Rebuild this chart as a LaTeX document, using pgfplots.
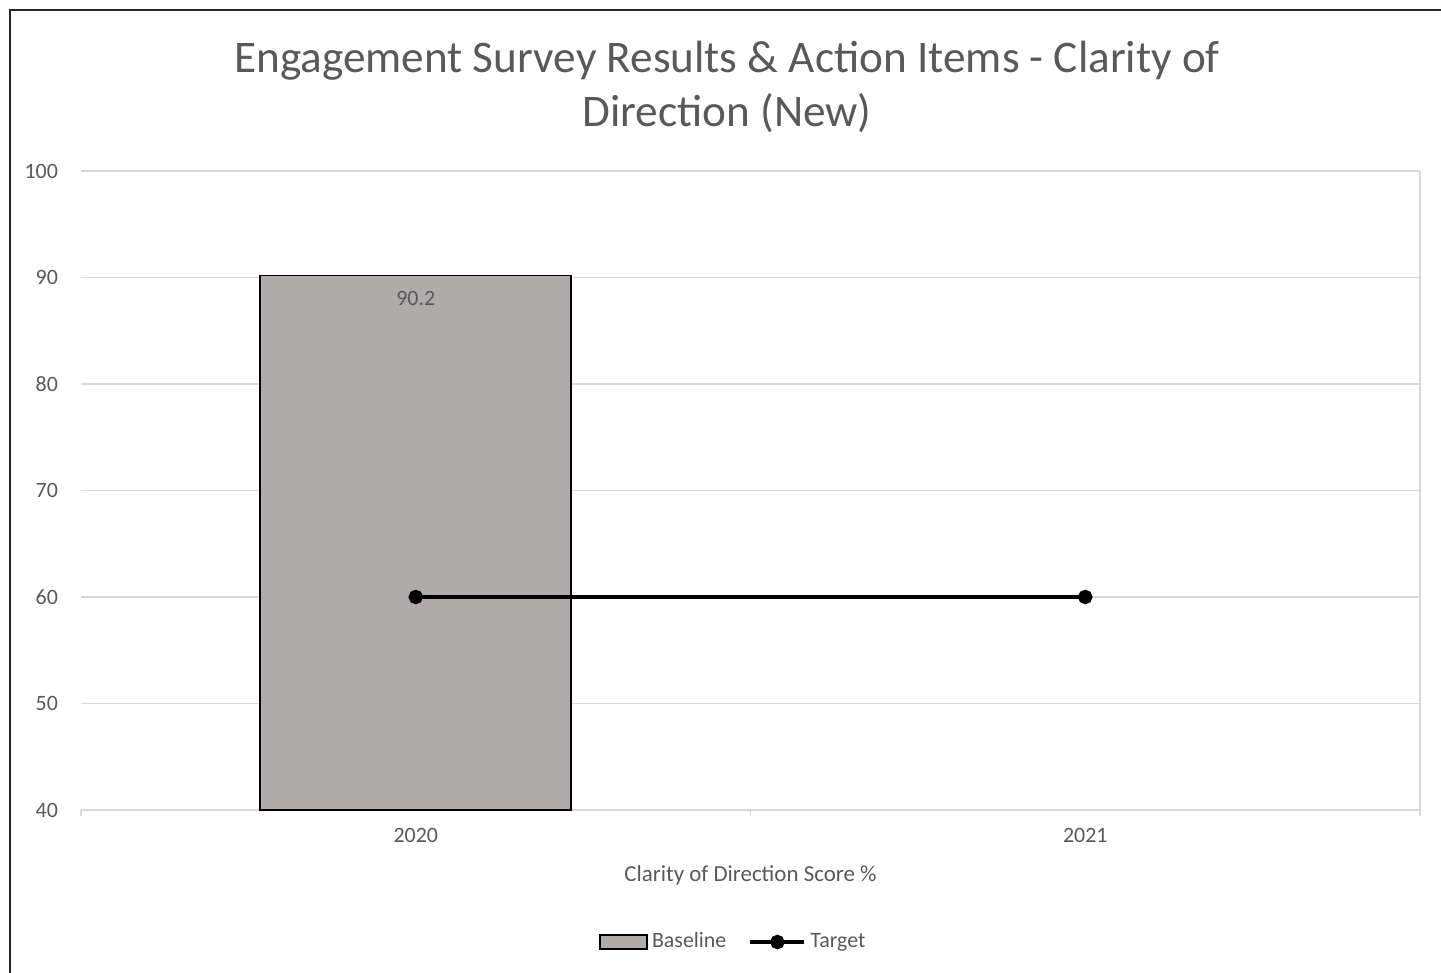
\documentclass[border=0pt]{standalone}
\usepackage{pgfplots}
\pgfplotsset{compat=1.18}
\usepackage{fontspec}
\setmainfont{Carlito}
\definecolor{txt}{HTML}{595959}
\definecolor{gridc}{HTML}{D9D9D9}
\definecolor{barc}{HTML}{AFABAB}
\begin{document}
\begin{tikzpicture}
\useasboundingbox (0,0) rectangle (720.5bp,486.5bp);
\draw[line width=1bp, black!85] (5bp,0) -- (5bp,481.5bp) -- (721bp,481.5bp);
\node[text=txt, font=\fontsize{22.7}{27}\selectfont, align=center] at (363.5bp,443bp)
  {Engagement Survey Results \& Action Items - Clarity of\\Direction (New)};
\begin{axis}[
  at={(40.5bp,81.5bp)}, anchor=south west,
  scale only axis, width=669.5bp, height=319.5bp,
  xmin=-0.5, xmax=1.5, ymin=40, ymax=100,
  ytick={40,50,...,100},
  xtick={-0.5,0.5,1.5}, xticklabels={},
  major x tick style={draw=gridc, line width=0.8bp},
  major tick length=3bp, tick align=outside,
  extra x ticks={0,1}, extra x tick labels={2020,2021},
  extra x tick style={major tick length=0pt, grid=none},
  axis x line*=bottom, axis y line*=left,
  x axis line style={draw=gridc, line width=0.8bp, -},
  y axis line style={draw=none},
  ymajorgrids, grid style={draw=gridc, line width=0.6bp},
  major y tick style={draw=none},
  tick label style={text=txt, font=\fontsize{11}{13}\selectfont},
  /pgf/number format/assume math mode=true,
  yticklabel style={xshift=-5bp, anchor=east},
  xticklabel style={yshift=-5.5bp},
  xlabel={Clarity of Direction Score \%},
  xlabel style={text=txt, font=\fontsize{11.5}{13}\selectfont, yshift=-1.5bp},
  legend columns=2,
  legend style={at={(0.488,-0.2066)}, anchor=center, draw=none, fill=none,
    font=\fontsize{11}{13}\selectfont, text=txt,
    nodes={text depth=0.2em, text height=0.75em, inner ysep=0pt},
    /tikz/every even column/.append style={column sep=9bp}},
  clip=false,
]
\draw[gridc, line width=0.8bp] (rel axis cs:1,0) -- (rel axis cs:1,1);
\addplot[ybar, bar width=155.5bp, fill=barc, draw=black, line width=0.8bp,
  nodes near coords, nodes near coords style={anchor=north, yshift=-4bp, text=txt, font=\fontsize{11}{13}\selectfont},
  point meta=explicit symbolic,
  legend image code/.code={\draw[fill=barc, draw=black, line width=0.8bp] (0bp,-3.5bp) rectangle (23.5bp,3.5bp);}]
  coordinates {(0,90.2) [90.2]};
\addlegendentry{Baseline}
\addplot[black, line width=2bp, mark=*, mark size=2.6bp, mark options={solid},
  legend image code/.code={\draw[black, line width=2bp] (0bp,0bp) -- (27bp,0bp); \fill[black] (13.5bp,0bp) circle (2.6bp);}]
  coordinates {(0,60) (1,60)};
\addlegendentry{Target}
\end{axis}
\end{tikzpicture}
\end{document}
